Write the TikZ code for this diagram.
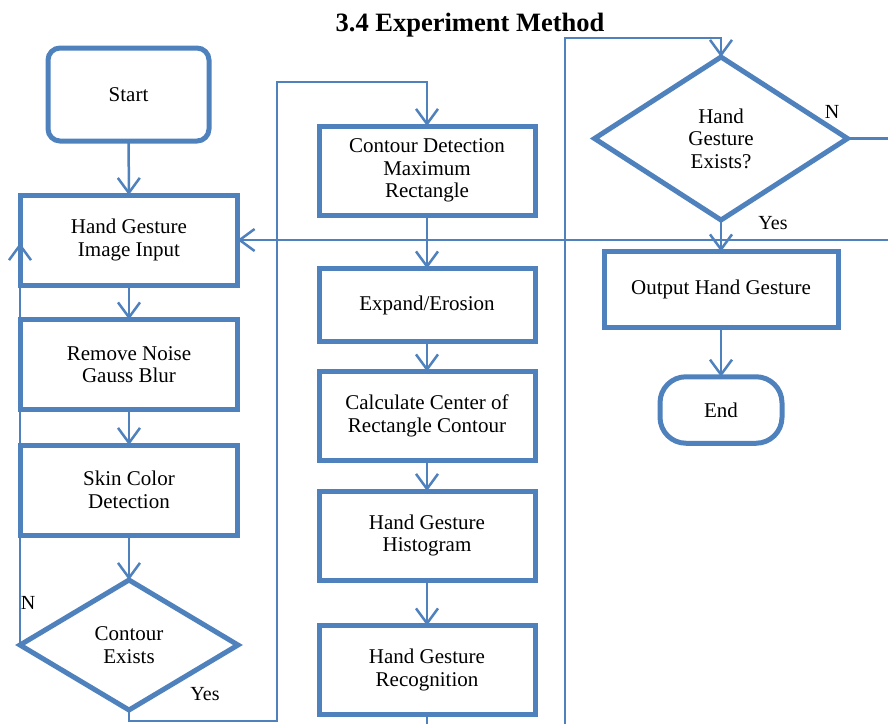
\documentclass[tikz,border=0pt]{standalone}
\usepackage{fontspec}
\setmainfont{Liberation Serif}
\usetikzlibrary{arrows.meta,shapes.geometric}
\definecolor{fcblue}{HTML}{4F81BD}
\begin{document}
\begin{tikzpicture}[x=1pt,y=-1pt,
  box/.style={draw=fcblue,line width=5pt,rectangle,inner sep=0pt,outer sep=0pt,align=center,font=\fontsize{21}{22.5}\selectfont},
  startbox/.style={box,rounded corners=12pt},
  endbox/.style={box,rounded corners=26pt},
  dec/.style={box,diamond},
  conn/.style={draw=fcblue,line width=2.5pt},
  arr/.style={conn,-{Straight Barb[length=15pt,width=22pt]}},
  lbl/.style={font=\fontsize{20}{22}\selectfont,inner sep=0pt}]
\useasboundingbox (0,0) rectangle (888,724);

\node[font=\fontsize{26.5}{28}\selectfont\bfseries,anchor=base,inner sep=0pt] (title) at (470,31) {3.4 Experiment Method};

% left column
\node[startbox,minimum width=161pt,minimum height=93pt] (start) at (128.5,94.5) {Start};
\node[box,minimum width=217pt,minimum height=90pt] (input) at (129,240) {Hand Gesture\\Image Input};
\node[box,minimum width=217pt,minimum height=90pt] (noise) at (129,364.5) {Remove Noise\\Gauss Blur};
\node[box,minimum width=217pt,minimum height=90pt] (skin) at (129,490) {Skin Color\\Detection};
\node[dec,minimum width=218pt,minimum height=130pt] (cexist) at (129,645) {Contour\\Exists};

% middle column
\node[box,minimum width=216pt,minimum height=89pt] (cdet) at (427,170.5) {Contour Detection\\Maximum\\Rectangle};
\node[box,minimum width=216pt,minimum height=73pt] (expand) at (427,305) {Expand/Erosion};
\node[box,minimum width=216pt,minimum height=89pt] (center) at (427,416) {Calculate Center of\\Rectangle Contour};
\node[box,minimum width=216pt,minimum height=89pt] (hist) at (427,535.5) {Hand Gesture\\Histogram};
\node[box,minimum width=216pt,minimum height=89pt] (recog) at (427,670) {Hand Gesture\\Recognition};

% right column
\node[dec,minimum width=253pt,minimum height=163pt] (hexist) at (721,138.5) {Hand\\Gesture\\Exists?};
\node[box,minimum width=234pt,minimum height=76pt] (output) at (721,289.5) {Output Hand Gesture};
\node[endbox,minimum width=122pt,minimum height=66.5pt] (end) at (721,410) {End};

% labels
\node[lbl] (n1) at (28,603) {N};
\node[lbl] (y1) at (205,694) {Yes};
\node[lbl] (n2) at (832,112) {N};
\node[lbl] (y2) at (773,223.5) {Yes};

% coordinates
\coordinate (c1) at (277,721);
\coordinate (c2) at (277,82);
\coordinate (nl) at (20,243);
\coordinate (r1) at (565,724);
\coordinate (r2) at (565,38);
\coordinate (r3) at (888,138.5);
\coordinate (r4) at (888,240);
\coordinate (m1) at (427,724);

% connectors
\draw[arr] (start) -- (input);
\draw[arr] (input) -- (noise);
\draw[arr] (noise) -- (skin);
\draw[arr] (skin) -- (cexist);
\draw[arr] (cexist.west) -- (nl);
\draw[arr] (cexist.south) |- (c1) -- (c2) -| (cdet.north);
\draw[arr] (cdet) -- (expand);
\draw[arr] (expand) -- (center);
\draw[arr] (center) -- (hist);
\draw[arr] (hist) -- (recog);
\draw[conn] (recog.south) -- (m1);
\draw[arr] (r1) -- (r2) -| (hexist.north);
\draw[conn] (hexist.east) -- (r3);
\draw[arr] (r4) -- (input.east);
\draw[arr] (hexist.south) -- (output.north);
\draw[arr] (output) -- (end);
\end{tikzpicture}
\end{document}
